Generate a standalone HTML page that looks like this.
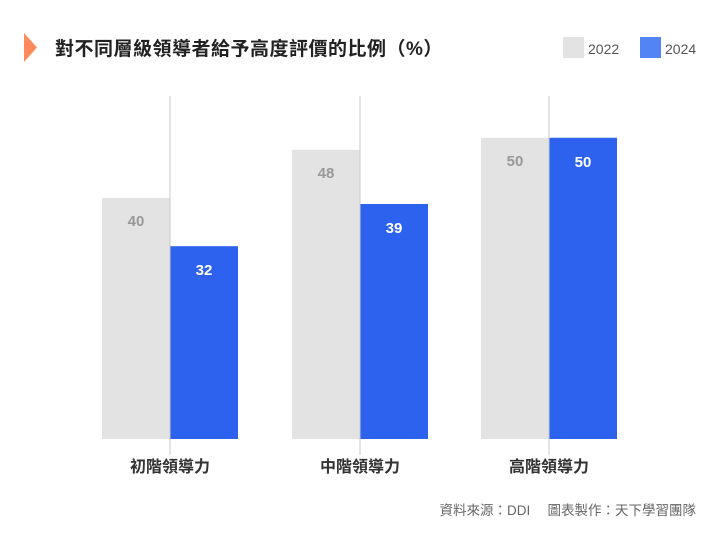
<!DOCTYPE html>
<html><head><meta charset="utf-8"><style>
body{margin:0;background:#fff;font-family:"Liberation Sans","Noto Sans CJK TC",sans-serif}
#c{position:relative;width:720px;height:540px;overflow:hidden}
</style></head><body>
<div id="c">
<svg id="s" width="720" height="540">
<polygon points="24,33 37,47.5 24,62" fill="#ff8a5c"/>
<text x="55" y="55" font-size="19" font-weight="bold" fill="#222" letter-spacing="0.5">對不同層級領導者給予高度評價的比例（%）</text>
<rect x="563" y="37" width="21" height="21" fill="#e3e3e3"/>
<text x="588" y="54" font-size="14" fill="#555">2022</text>
<rect x="640" y="37" width="21" height="21" fill="#5284f5"/>
<text x="665" y="54" font-size="14" fill="#555">2024</text>
<text x="696" y="515" font-size="13.5" fill="#666" text-anchor="end">資料來源：DDI　 圖表製作：天下學習團隊</text>
</svg>
</div>
<script>
const categories=["初階領導力","中階領導力","高階領導力"];
const values2022=[40,48,50];
const values2024=[32,39,50];
const svg=document.getElementById('s');
const NS='http://www.w3.org/2000/svg';
const centers=[170,360,549];
const base=439, scale=6.025, bw=68;
function y(v){return base-v*scale;}
function mk(t,a){const e=document.createElementNS(NS,t);for(const k in a)e.setAttribute(k,a[k]);svg.appendChild(e);return e;}
categories.forEach((c,i)=>{
  const cx=centers[i];
  const r1=mk('rect',{x:cx-bw,y:y(values2022[i]),width:bw,height:base-y(values2022[i]),fill:'#e3e3e3'});
  
  
  const r2=mk('rect',{x:cx,y:y(values2024[i]),width:bw,height:base-y(values2024[i]),fill:'#2c62ee'});
  
  
  const l=mk('line',{x1:cx,x2:cx,y1:96,y2:455,stroke:'#c8c8c8','stroke-width':1});
  
  
  const t1=mk('text',{x:cx-bw/2,y:y(values2022[i])+28,'font-size':15,'font-weight':'bold',fill:'#999','text-anchor':'middle'});
  t1.textContent=values2022[i];
  
  
  const t2=mk('text',{x:cx+bw/2,y:y(values2024[i])+29,'font-size':15,'font-weight':'bold',fill:'#fff','text-anchor':'middle'});
  t2.textContent=values2024[i];
  
  
  const cl=mk('text',{x:cx,y:472,'font-size':16,'font-weight':'bold',fill:'#333','text-anchor':'middle'});
  cl.textContent=c;
  
  
});
</script>
</body></html>
